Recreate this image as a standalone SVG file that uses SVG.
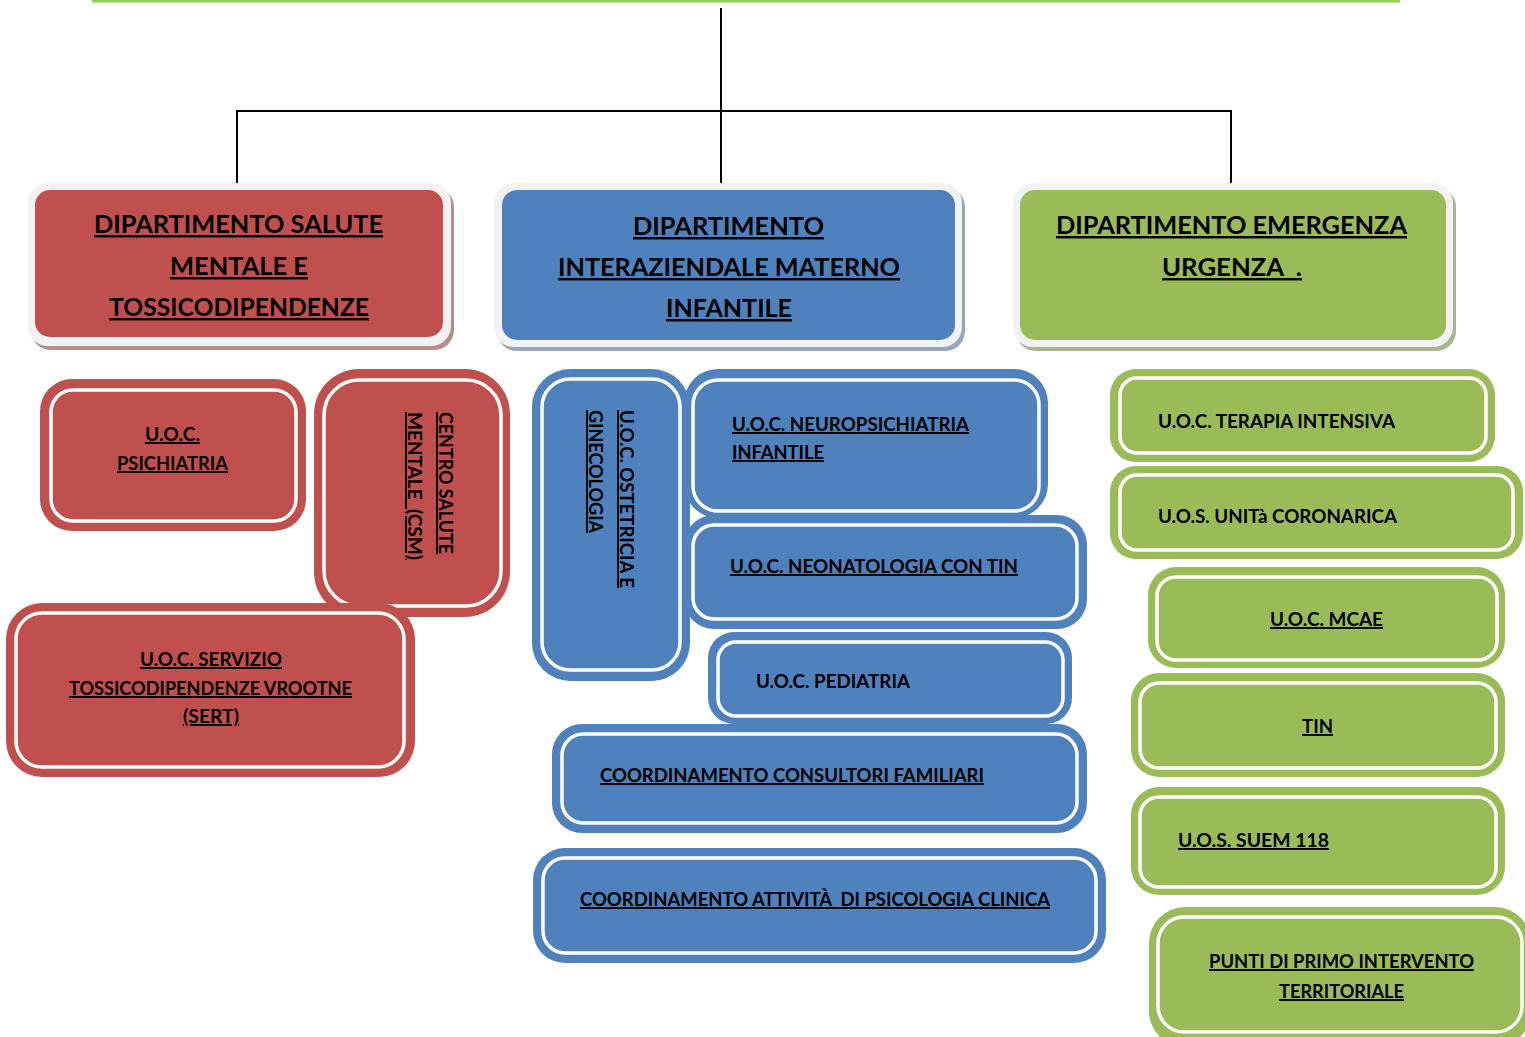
<svg xmlns="http://www.w3.org/2000/svg" width="1525" height="1037" viewBox="0 0 1525 1037">
<style>
text{font-family:Lato,"Open Sans","Liberation Sans",sans-serif;font-weight:bold;fill:#000;white-space:pre}
.u{text-decoration:underline}
.t1{font-size:24.5px}
.t2{font-size:19px}
.red .band,.red .fill{fill:#c0504d}
.blue .band,.blue .fill{fill:#4f81bd}
.green .band,.green .fill{fill:#9bbb59}
.fill{stroke:#fff;stroke-width:3.5}
.light{fill:#f2f2f2}
.red .sh{fill:#b38e8c}
.blue .sh{fill:#97a6bb}
.green .sh{fill:#a8b58f}
.conn{stroke:#000;stroke-width:2;fill:none}
</style>
<rect x="92" y="0" width="1308" height="2.5" fill="#92d050"/>
<g id="connectors">
<path class="conn" d="M721 8V183"/>
<path class="conn" d="M237 186V111H1231V186"/>
</g>
<g id="dip-salute-mentale" class="red">
<rect class="sh" x="31" y="187" width="423" height="163" rx="20"/>
<rect class="light" x="28" y="183" width="423" height="163" rx="20"/>
<rect class="fill" x="35" y="190" width="408" height="147" rx="15" style="stroke:none"/>
<text class="t1 u" x="94" y="233" textLength="289" lengthAdjust="spacingAndGlyphs">DIPARTIMENTO SALUTE</text>
<text class="t1 u" x="170" y="275" textLength="138" lengthAdjust="spacingAndGlyphs">MENTALE E</text>
<text class="t1 u" x="109" y="316" textLength="260" lengthAdjust="spacingAndGlyphs">TOSSICODIPENDENZE</text>
</g>
<g id="dip-materno-infantile" class="blue">
<rect class="sh" x="497" y="187" width="468" height="164" rx="20"/>
<rect class="light" x="494" y="183" width="468" height="164" rx="20"/>
<rect class="fill" x="502" y="190" width="453" height="150" rx="15" style="stroke:none"/>
<text class="t1 u" x="633" y="235" textLength="191" lengthAdjust="spacingAndGlyphs">DIPARTIMENTO</text>
<text class="t1 u" x="558" y="276" textLength="342" lengthAdjust="spacingAndGlyphs">INTERAZIENDALE MATERNO</text>
<text class="t1 u" x="666" y="317" textLength="126" lengthAdjust="spacingAndGlyphs">INFANTILE</text>
</g>
<g id="dip-emergenza" class="green">
<rect class="sh" x="1016" y="187" width="440" height="164" rx="20"/>
<rect class="light" x="1013" y="183" width="440" height="164" rx="20"/>
<rect class="fill" x="1020" y="190" width="426" height="150" rx="15" style="stroke:none"/>
<text class="t1 u" x="1056" y="234" textLength="351" lengthAdjust="spacingAndGlyphs">DIPARTIMENTO EMERGENZA</text>
<text class="t1 u" x="1162" y="276" textLength="140" lengthAdjust="spacingAndGlyphs">URGENZA  .</text>
</g>
<g id="uoc-psichiatria" class="red">
<rect class="band" x="40" y="379" width="266" height="152" rx="32"/>
<rect class="fill" x="51" y="390" width="245" height="131" rx="22"/>
<text class="t2 u" x="145" y="441" textLength="55" lengthAdjust="spacingAndGlyphs">U.O.C.</text>
<text class="t2 u" x="117" y="470" textLength="111" lengthAdjust="spacingAndGlyphs">PSICHIATRIA</text>
</g>
<g id="csm" class="red">
<rect class="band" x="314" y="369" width="196" height="248" rx="45"/>
<rect class="fill" x="324" y="380" width="177" height="226" rx="35"/>
<text class="t2 u" transform="translate(439,412) rotate(90)" textLength="142" lengthAdjust="spacingAndGlyphs">CENTRO SALUTE</text>
<text class="t2 u" transform="translate(408,412) rotate(90)" textLength="148" lengthAdjust="spacingAndGlyphs">MENTALE  (CSM)</text>
</g>
<g id="sert" class="red">
<rect class="band" x="6" y="603" width="409" height="174" rx="36"/>
<rect class="fill" x="16" y="613" width="388" height="154" rx="26"/>
<text class="t2 u" x="140" y="666" textLength="142" lengthAdjust="spacingAndGlyphs">U.O.C. SERVIZIO</text>
<text class="t2 u" x="69" y="695" textLength="283" lengthAdjust="spacingAndGlyphs">TOSSICODIPENDENZE VROOTNE</text>
<text class="t2 u" x="183" y="723" textLength="56" lengthAdjust="spacingAndGlyphs">(SERT)</text>
</g>
<g id="ostetricia" class="blue">
<rect class="band" x="532" y="369" width="158" height="312" rx="38"/>
<rect class="fill" x="542" y="379" width="138" height="291" rx="28"/>
<text class="t2 u" transform="translate(620,410) rotate(90)" textLength="178" lengthAdjust="spacingAndGlyphs">U.O.C. OSTETRICIA E</text>
<text class="t2 u" transform="translate(589,410) rotate(90)" textLength="123" lengthAdjust="spacingAndGlyphs">GINECOLOGIA</text>
</g>
<g id="neuropsichiatria" class="blue">
<rect class="band" x="684" y="369" width="364" height="149" rx="34"/>
<rect class="fill" x="693" y="380" width="346" height="131" rx="25"/>
<text class="t2 u" x="732" y="431" textLength="237" lengthAdjust="spacingAndGlyphs">U.O.C. NEUROPSICHIATRIA</text>
<text class="t2 u" x="732" y="459" textLength="92" lengthAdjust="spacingAndGlyphs">INFANTILE</text>
</g>
<g id="neonatologia" class="blue">
<rect class="band" x="684" y="515" width="403" height="114" rx="30"/>
<rect class="fill" x="693" y="525" width="384" height="94" rx="21"/>
<text class="t2 u" x="730" y="573" textLength="288" lengthAdjust="spacingAndGlyphs">U.O.C. NEONATOLOGIA CON TIN</text>
</g>
<g id="pediatria" class="blue">
<rect class="band" x="708" y="632" width="364" height="92" rx="26"/>
<rect class="fill" x="718" y="642" width="345" height="74" rx="18"/>
<text class="t2" x="756" y="688" textLength="154" lengthAdjust="spacingAndGlyphs">U.O.C. PEDIATRIA</text>
</g>
<g id="consultori" class="blue">
<rect class="band" x="552" y="724" width="535" height="109" rx="30"/>
<rect class="fill" x="562" y="734" width="515" height="89" rx="21"/>
<text class="t2 u" x="600" y="782" textLength="384" lengthAdjust="spacingAndGlyphs">COORDINAMENTO CONSULTORI FAMILIARI</text>
</g>
<g id="psicologia" class="blue">
<rect class="band" x="533" y="848" width="573" height="115" rx="32"/>
<rect class="fill" x="543" y="858" width="553" height="95" rx="22"/>
<text class="t2 u" x="580" y="906" textLength="470" lengthAdjust="spacingAndGlyphs">COORDINAMENTO ATTIVITÀ  DI PSICOLOGIA CLINICA</text>
</g>
<g id="terapia-intensiva" class="green">
<rect class="band" x="1110" y="369" width="385" height="93" rx="26"/>
<rect class="fill" x="1120" y="378" width="366" height="75" rx="17"/>
<text class="t2" x="1158" y="428" textLength="237" lengthAdjust="spacingAndGlyphs">U.O.C. TERAPIA INTENSIVA</text>
</g>
<g id="unita-coronarica" class="green">
<rect class="band" x="1110" y="466" width="413" height="93" rx="26"/>
<rect class="fill" x="1120" y="475" width="393" height="75" rx="17"/>
<text class="t2" x="1158" y="523" textLength="239" lengthAdjust="spacingAndGlyphs">U.O.S. UNITà CORONARICA</text>
</g>
<g id="mcae" class="green">
<rect class="band" x="1148" y="567" width="357" height="101" rx="28"/>
<rect class="fill" x="1157" y="577" width="340" height="83" rx="19"/>
<text class="t2 u" x="1270" y="626" textLength="113" lengthAdjust="spacingAndGlyphs">U.O.C. MCAE</text>
</g>
<g id="tin" class="green">
<rect class="band" x="1131" y="673" width="374" height="104" rx="28"/>
<rect class="fill" x="1140" y="683" width="356" height="85" rx="19"/>
<text class="t2 u" x="1302" y="733" textLength="31" lengthAdjust="spacingAndGlyphs">TIN</text>
</g>
<g id="suem" class="green">
<rect class="band" x="1131" y="787" width="374" height="108" rx="28"/>
<rect class="fill" x="1140" y="797" width="356" height="90" rx="19"/>
<text class="t2 u" x="1178" y="847" textLength="151" lengthAdjust="spacingAndGlyphs">U.O.S. SUEM 118</text>
</g>
<g id="punti-primo-intervento" class="green">
<rect class="band" x="1149" y="907" width="382" height="140" rx="36"/>
<rect class="fill" x="1158" y="917" width="364" height="115" rx="26"/>
<text class="t2 u" x="1209" y="968" textLength="265" lengthAdjust="spacingAndGlyphs">PUNTI DI PRIMO INTERVENTO</text>
<text class="t2 u" x="1279" y="998" textLength="125" lengthAdjust="spacingAndGlyphs">TERRITORIALE</text>
</g>
</svg>
